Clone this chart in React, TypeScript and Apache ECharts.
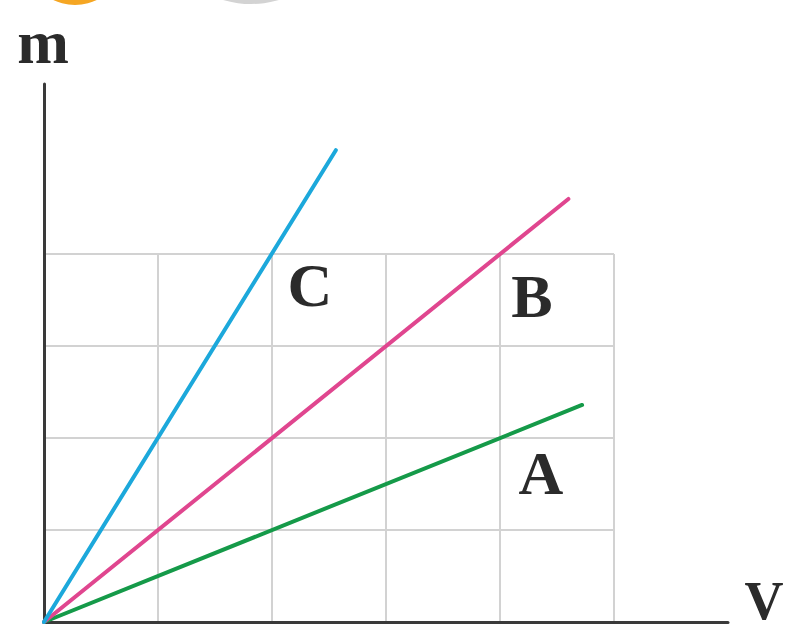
import React, { useEffect, useRef } from "react";
import * as echarts from "echarts";

// Grid extent (in grid units)
const gridCols = 5;
const gridRows = 4;
// Axis extents
const axisXMax = 6;
const axisYMax = 5.85;

// Lines: [label, endpoint x, endpoint y, colour]
const lineNames = ["A", "B", "C"];
const lineEndX = [4.72, 4.6, 2.56];
const lineEndY = [2.36, 4.6, 5.13];
const lineColors = ["#159a49", "#e0468f", "#1ca8db"];

// Axis labels
const yAxisLabel = "m";
const xAxisLabel = "V";

export default function App() {
  const ref = useRef<HTMLDivElement>(null);
  useEffect(() => {
    if (!ref.current) return;
    const chart = echarts.init(ref.current, undefined, { renderer: "svg" });
    const font = "'Liberation Serif', 'Times New Roman', serif";
    const labelStyle = (text: string, size = 62) => ({
      text,
      fill: "#2b2b2b",
      fontSize: size,
      fontWeight: "bold",
      fontFamily: font,
      align: "center",
      verticalAlign: "middle",
    });
    const series = lineNames.map((n, i) => ({
      name: n,
      type: "line",
      xAxisIndex: 1,
      yAxisIndex: 1,
      data: [
        [0, 0],
        [lineEndX[i], lineEndY[i]],
      ],
      showSymbol: false,
      symbol: "none",
      lineStyle: { color: lineColors[i], width: 4, cap: "round" },
      z: 5,
    }));
    chart.setOption({
      animation: false,
      backgroundColor: "#ffffff",
      grid: [
        { left: 44, top: 254, width: 570, height: 368 },
        { left: 44, top: 84, width: 684, height: 538 },
      ],
      xAxis: [
        {
          gridIndex: 0,
          type: "value",
          min: 0,
          max: gridCols,
          interval: 1,
          axisLine: { show: false },
          axisTick: { show: false },
          axisLabel: { show: false },
          splitLine: { show: true, lineStyle: { color: "#d2d2d2", width: 2 } },
        },
        {
          gridIndex: 1,
          type: "value",
          min: 0,
          max: axisXMax,
          axisLine: { show: true, lineStyle: { color: "#3a3a3a", width: 3 } },
          axisTick: { show: false },
          axisLabel: { show: false },
          splitLine: { show: false },
        },
      ],
      yAxis: [
        {
          gridIndex: 0,
          type: "value",
          min: 0,
          max: gridRows,
          interval: 1,
          axisLine: { show: false },
          axisTick: { show: false },
          axisLabel: { show: false },
          splitLine: { show: true, lineStyle: { color: "#d2d2d2", width: 2 } },
        },
        {
          gridIndex: 1,
          type: "value",
          min: 0,
          max: axisYMax,
          axisLine: { show: true, lineStyle: { color: "#3a3a3a", width: 3 } },
          axisTick: { show: false },
          axisLabel: { show: false },
          splitLine: { show: false },
        },
      ],
      series,
      graphic: [
        { type: "circle", shape: { cx: 75, cy: -45, r: 50 }, style: { fill: "#f5a623" } },
        { type: "circle", shape: { cx: 251, cy: -96, r: 100 }, style: { fill: "#d3d3d3" } },
        { type: "text", x: 43, y: 42, style: labelStyle(yAxisLabel) },
        { type: "text", x: 764, y: 601, style: labelStyle(xAxisLabel, 54) },
        { type: "text", x: 310, y: 285, style: labelStyle(lineNames[2]) },
        { type: "text", x: 532, y: 296, style: labelStyle(lineNames[1]) },
        { type: "text", x: 541, y: 473, style: labelStyle(lineNames[0]) },
      ],
    });
    return () => chart.dispose();
  }, []);
  return (
    <div
      ref={ref}
      style={{ position: "fixed", left: 0, top: 0, width: 792, height: 637 }}
    />
  );
}
